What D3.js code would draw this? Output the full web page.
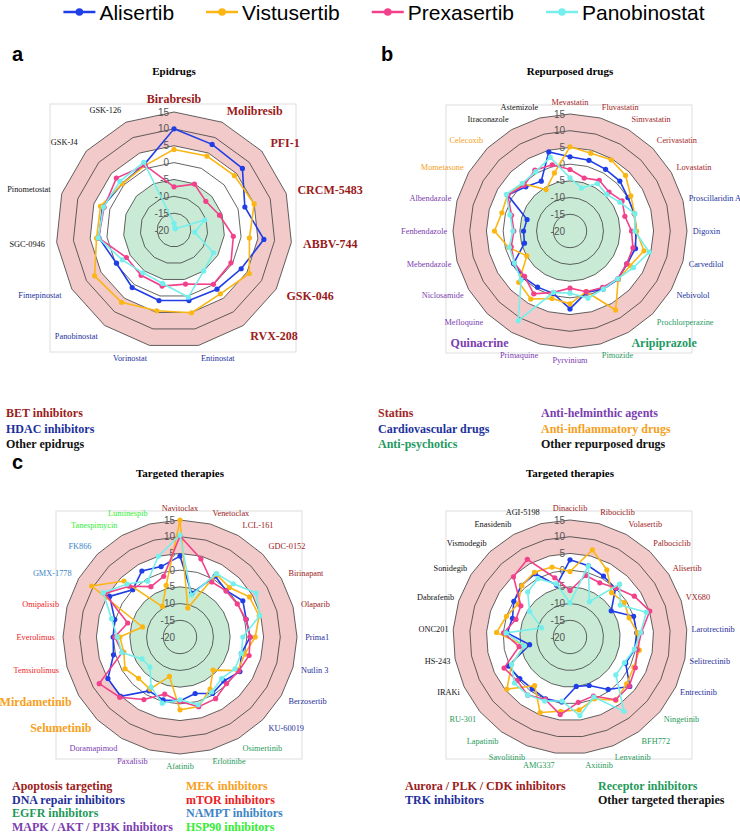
<!DOCTYPE html>
<html>
<head>
<meta charset="utf-8">
<script src="https://cdn.jsdelivr.net/npm/d3@7"></script>
<style>
body { margin: 0; background: #fff; }
svg { display: block; }
</style>
</head>
<body>
<svg id="fig" width="740" height="835"></svg>
<script>

// four drugs drawn on every radar
var drugs = ["Alisertib", "Vistusertib", "Prexasertib", "Panobinostat"];
var drugColors = ["#1f3ee6", "#fbb614", "#f2418a", "#74efec"];

// radial grid
var ringVals = [15, 10, 5, 0, -5, -10, -15];
var tickVals = [15, 10, 5, 0, -5, -10, -15, -20];

// ---- a: Epidrugs
var epiLabels = ["Birabresib","Molibresib","PFI-1","CRCM-5483","ABBV-744","GSK-046","RVX-208",
  "Entinostat","Vorinostat","Panobinostat","Fimepinostat","SGC-0946","Pinometostat","GSK-J4","GSK-126"];
var epiGroups = ["bet","bet","bet","bet","bet","bet","bet","hdac","hdac","hdac","hdac","oth","oth","oth","oth"];
var epiAlisertib    = [10, 7.8, 7.3, 2.1, 6.8, 3, 1.7, 1.4, 1.4, 1.1, -0.3, 2.4, 2.3, 0.6, 1.4];
var epiVistusertib  = [3.9, 4, 4.1, 5, 2.5, 5.8, 3.4, 5.1, 4.5, 6.5, 7.2, 3.1, 2.9, 0.6, 1];
var epiPrexasertib  = [-7.2, -5.1, -7.3, -5.8, -2.3, -0.5, -0.1, -3.6, -3, -3.4, -3.7, 2.5, 1.8, 3, 1];
var epiPanobinostat = [-18, -19.3, -19.5, -10.4, -13.8, -6.5, -5, 0.4, -3.8, -4.3, -2.3, 2.6, 2, 1.6, 2];

// ---- b: Repurposed drugs
var repLabels = ["Mevastatin","Fluvastatin","Simvastatin","Cerivastatin","Lovastatin","Proscillaridin A",
  "Digoxin","Carvedilol","Nebivolol","Prochlorperazine","Aripiprazole","Pimozide","Pyrvinium","Primaquine",
  "Quinacrine","Mefloquine","Niclosamide","Mebendazole","Fenbendazole","Albendazole","Mometasone",
  "Celecoxib","Itraconazole","Astemizole"];
var repGroups = ["statin","statin","statin","statin","statin","cardio","cardio","cardio","cardio",
  "psych","psych","psych","helm","helm","helm","helm","helm","helm","helm","helm","infl","infl","oth","oth"];
var repAlisertib    = [2.2, 1.9, 1.3, 1.1, 0, -0.1, -0.3, 0.3, -0.4, 0.4, 0, -1, 3.3, -0.7, -0.6, -0.4, -0.5, -5.9, -6.1, -6.7, 1.5, -1.3, -2.8, 4.5];
var repVistusertib  = [5.2, 4.1, 4.6, 3.5, 1, 0, -0.1, 2.9, 0.8, 0.4, 7.3, -1.2, 1.8, 0.9, 3.5, 1.7, -5.1, -1, 2.6, 1.1, 1.6, 0, -5.7, -2];
var repPrexasertib  = [-1.6, -3.6, -2.5, -3.5, -2, -3, -1.6, -0.5, -0.4, 0.2, -0.5, -1.2, -2.9, -1, 1.7, -0.8, -0.8, -1.8, -3.2, -1.9, 1.5, -0.6, 1, 0.5];
var repPanobinostat = [-4.1, -6.7, -3.6, -4.5, -2.8, 0.1, -0.6, 4.5, 1.9, 0.2, 0, 0.8, -1.4, -1, 11, 0.7, -0.8, -1.2, -2.9, -1.4, 2, 0.2, 0.5, 2.8];

// ---- c (left): Targeted therapies
var tarLabels = ["Navitoclax","Venetoclax","LCL-161","GDC-0152","Birinapant","Olaparib","Prima1","Nutlin 3",
  "Berzosertib","KU-60019","Osimertinib","Erlotinibe","Afatinib","Paxalisib","Doramapimod","Selumetinib",
  "Mirdametinib","Temsirolimus","Everolimus","Omipalisib","GMX-1778","FK866","Tanespimycin","Luminespib"];
var tarGroups = ["apop","apop","apop","apop","apop","apop","dna","dna","dna","dna","egfr","egfr","egfr",
  "mapk","mapk","mek","mek","mtor","mtor","mtor","nampt","nampt","hsp","hsp"];
var tarAlisertib    = [4.2, -6.5, 1, -0.4, 1.7, 0.5, 1, -1, 0.7, -1.4, -0.5, -2.5, -0.9, -0.5, -1.4, 5.1, 4.9, 0.6, 0, 0.2, 4.3, 0, 2.8, 1.8];
var tarVistusertib  = [15, -11, 1.7, 0.9, 4, 4.5, 2.5, 0, 0, -6, -2, 1.5, 1.8, -7.8, -2, -2.5, -1, -2.6, -2, -8.4, 10.5, 3.7, -9.5, -4];
var tarPrexasertib  = [10.2, 4.2, -1, -0.5, -0.2, 0.4, 1, 1.4, 0.3, -0.3, 1.3, 1.6, -0.7, -2.3, 1.6, 5.5, 7.9, -2.1, -0.5, -3.8, 6, 1.5, -2.6, -1.2];
var tarPanobinostat = [10.5, -7, 1.9, 2.5, 6.3, 4.7, -1.2, -1, -1, -2.4, -1, 1, -1.2, 0.5, -2.7, -7.3, -6.9, -2, -1.2, 1.2, 6.5, 2.4, -0.7, 5];

// ---- c (right): Targeted therapies
var tar2Labels = ["Dinaciclib","Ribociclib","Volasertib","Palbociclib","Alisertib","VX680","Larotrectinib",
  "Selitrectinib","Entrectinib","Ningetinib","BFH772","Lenvatinib","Axitinib","AMG337","Savolitinib",
  "Lapatinib","RU-301","IRAKi","HS-243","ONC201","Dabrafenib","Sonidegib","Vismodegib","Enasidenib","AGI-5198"];
var tar2Groups = ["cdk","cdk","cdk","cdk","cdk","cdk","trk","trk","trk","rec","rec","rec","rec","rec","rec",
  "rec","rec","oth","oth","oth","oth","oth","oth","oth","oth"];
var tar2Alisertib    = [3.1, 2, 0.8, -0.1, -5.4, 0, 0, -0.3, -1.6, 3.2, -0.6, -4.4, -5.1, -0.4, -0.1, -0.8, -0.5, 0.4, -7.7, -1.2, -1.9, -0.1, 1.2, 1.6, -4];
var tar2Vistusertib  = [-0.4, 6.9, 2.9, -1.8, -0.8, -1.4, 0.2, 1.1, 1.1, 2, 3.4, -0.1, 2, 2.4, 4.3, -2, 4.5, -0.7, -6.1, 2, 0, -1.6, 1.1, 2.1, 1.6];
var tar2Prexasertib  = [-6.1, -1, -1.5, 0.1, 2.8, 5.1, 1.4, 0.5, 1.6, 3, 3.2, -1, -0.3, 3.4, 0.1, 1.5, 0.5, 1.8, -4.5, -0.1, -3, -2.6, 4.7, 6.5, -1.7];
var tar2Panobinostat = [-9.8, 2, -7.9, 1.7, -2.2, 4, 1.2, -0.4, -2, -2.2, 7.5, -0.7, 3.7, -0.7, 0.6, 1.5, 1.6, -0.7, -6, -0.8, -11.1, -5.7, -1.5, -0.1, -3.6];

// labels written big and bold
var boldLabels = ["Birabresib","Molibresib","PFI-1","CRCM-5483","ABBV-744","GSK-046","RVX-208",
  "Aripiprazole","Quinacrine","Selumetinib","Mirdametinib"];

// class colours
var groupColor = {
  bet: "#9b1b1b", hdac: "#1c2f9e", oth: "#111111",
  statin: "#a3261f", cardio: "#22319e", psych: "#1f9a63", helm: "#7b3db0", infl: "#f5a020",
  apop: "#9b2020", dna: "#1f2f9a", egfr: "#1f9a5a", mapk: "#7b3db0", mek: "#f7a01a",
  mtor: "#ee1c24", nampt: "#3d85c6", hsp: "#33ee33",
  cdk: "#9b2020", trk: "#1f2f9a", rec: "#1f9a5a"
};

// class legends under each radar
var legA = [["BET inhibitors","bet"],["HDAC inhibitors","hdac"],["Other epidrugs","oth"]];
var legB1 = [["Statins","statin"],["Cardiovascular drugs","cardio"],["Anti-psychotics","psych"]];
var legB2 = [["Anti-helminthic agents","helm"],["Anti-inflammatory drugs","infl"],["Other repurposed drugs","oth"]];
var legC1 = [["Apoptosis targeting","apop"],["DNA repair inhibitors","dna"],["EGFR inhibitors","egfr"],["MAPK / AKT / PI3K inhibitors","mapk"]];
var legC2 = [["MEK inhibitors","mek"],["mTOR inhibitors","mtor"],["NAMPT inhibitors","nampt"],["HSP90 inhibitors","hsp"]];
var legD1 = [["Aurora / PLK / CDK inhibitors","cdk"],["TRK inhibitors","trk"]];
var legD2 = [["Receptor inhibitors","rec"],["Other targeted therapies","oth"]];

var serif = "'Liberation Serif','Times New Roman',serif";
var svg = d3.select("#fig");

function drawRadar(cfg) {
  var n = cfg.labels.length;
  var g = svg.append("g").attr("transform", "translate(" + cfg.cx + "," + cfg.cy + ")");
  var r = d3.scaleLinear().domain([-20, 15]).range([0, cfg.R]);
  var ang = d3.scaleLinear().domain([0, n]).range([0, 2 * Math.PI]);

  function ring(v) {
    return d3.lineRadial()
      .angle(function(d, i) { return ang(i); })
      .radius(r(v))
      .curve(d3.curveLinearClosed)(cfg.labels);
  }

  //frame
  g.append("rect").attr("x", -124).attr("y", -126).attr("width", 246).attr("height", 248)
    .attr("fill", "none").attr("stroke", "#dedede").attr("stroke-width", 1);

  //bands
  g.append("path").attr("d", ring(15)).attr("fill", "#f2caca");
  g.append("path").attr("d", ring(5)).attr("fill", "#ffffff");
  g.append("path").attr("d", ring(-5)).attr("fill", "#c9ebd6");
  g.selectAll(".ring").data(ringVals).enter().append("path")
    .attr("class", "ring")
    .attr("d", ring)
    .attr("fill", "none").attr("stroke", "#3b3b3b").attr("stroke-width", 0.8);

  //tick labels
  g.selectAll(".tick").data(tickVals).enter().append("text")
    .attr("class", "tick")
    .attr("x", -5)
    .attr("y", function(d) { return -r(d); })
    .attr("dy", "0.35em")
    .attr("text-anchor", "end")
    .style("font-family", "'Liberation Sans',Arial,sans-serif")
    .style("font-size", "10px")
    .style("fill", "#555")
    .text(function(d) { return d; });

  //series
  var line = d3.lineRadial()
    .angle(function(d, i) { return ang(i); })
    .radius(function(d) { return r(d); })
    .curve(d3.curveLinearClosed);

  cfg.values.forEach(function(vals, s) {
    g.append("path").attr("d", line(vals))
      .attr("fill", "none").attr("stroke", drugColors[s]).attr("stroke-width", 1.6);
    g.selectAll(null).data(vals).enter().append("circle")
      .attr("cx", function(d, i) { return r(d) * Math.sin(ang(i)); })
      .attr("cy", function(d, i) { return -r(d) * Math.cos(ang(i)); })
      .attr("r", 2.6)
      .attr("fill", drugColors[s]);
  });

  //axis labels (on a slightly taller ellipse than the grid)
  var rx = cfg.R * cfg.padX, ry = cfg.R * cfg.padY;
  g.selectAll(".lab").data(cfg.labels).enter().append("text")
    .attr("class", "lab")
    .attr("x", function(d, i) { return rx * Math.sin(ang(i)); })
    .attr("y", function(d, i) { return -ry * Math.cos(ang(i)); })
    .attr("dy", "0.35em")
    .attr("text-anchor", function(d, i) {
      var s = Math.sin(ang(i));
      return s > 0.1 ? "start" : (s < -0.1 ? "end" : "middle");
    })
    .style("font-family", serif)
    .style("font-size", function(d) { return boldLabels.indexOf(d) >= 0 ? "12px" : "8.3px"; })
    .style("font-weight", function(d) { return boldLabels.indexOf(d) >= 0 ? "bold" : "normal"; })
    .style("fill", function(d, i) { return groupColor[cfg.groups[i]]; })
    .text(function(d) { return d; });

  //title
  svg.append("text")
    .attr("x", cfg.cx).attr("y", cfg.titleY)
    .attr("text-anchor", "middle")
    .style("font-family", serif).style("font-weight", "bold").style("font-size", "11px")
    .text(cfg.title);
}

function drawLegend(items, x, y, step) {
  svg.append("g").selectAll("text").data(items).enter().append("text")
    .attr("x", x)
    .attr("y", function(d, i) { return y + i * step; })
    .style("font-family", serif).style("font-weight", "bold").style("font-size", "12px")
    .style("fill", function(d) { return groupColor[d[1]]; })
    .text(function(d) { return d[0]; });
}

drawRadar({ labels: epiLabels, groups: epiGroups, cx: 174, cy: 230, R: 118, padX: 1.1, padY: 1.11,
  title: "Epidrugs", titleY: 75,
  values: [epiAlisertib, epiVistusertib, epiPrexasertib, epiPanobinostat] });
drawRadar({ labels: repLabels, groups: repGroups, cx: 570, cy: 231, R: 117, padX: 1.05, padY: 1.1,
  title: "Repurposed drugs", titleY: 75,
  values: [repAlisertib, repVistusertib, repPrexasertib, repPanobinostat] });
drawRadar({ labels: tarLabels, groups: tarGroups, cx: 180, cy: 637, R: 117, padX: 1.07, padY: 1.1,
  title: "Targeted therapies", titleY: 477,
  values: [tarAlisertib, tarVistusertib, tarPrexasertib, tarPanobinostat] });
drawRadar({ labels: tar2Labels, groups: tar2Groups, cx: 570, cy: 637, R: 117, padX: 1.04, padY: 1.1,
  title: "Targeted therapies", titleY: 477,
  values: [tar2Alisertib, tar2Vistusertib, tar2Prexasertib, tar2Panobinostat] });

drawLegend(legA, 6, 417, 15.5);
drawLegend(legB1, 378, 417, 15.5);
drawLegend(legB2, 541, 417, 15.5);
drawLegend(legC1, 12, 790, 13.5);
drawLegend(legC2, 186, 790, 13.5);
drawLegend(legD1, 405, 790, 13.5);
drawLegend(legD2, 598, 790, 13.5);

//panel letters
[["a", 12, 61], ["b", 381, 61], ["c", 12, 469]].forEach(function(p) {
  svg.append("text").attr("x", p[1]).attr("y", p[2])
    .style("font-family", "'Liberation Sans',Arial,sans-serif")
    .style("font-weight", "bold").style("font-size", "20px")
    .text(p[0]);
});

//top legend
var topLeg = svg.append("g");
var lx = 0;
drugs.forEach(function(name, i) {
  var it = topLeg.append("g").attr("transform", "translate(" + lx + ",0)");
  it.append("line").attr("x1", 0).attr("x2", 32).attr("y1", 12).attr("y2", 12)
    .attr("stroke", drugColors[i]).attr("stroke-width", 2.5);
  it.append("circle").attr("cx", 16).attr("cy", 12).attr("r", 3.8).attr("fill", drugColors[i]);
  var t = it.append("text").attr("x", 36).attr("y", 19.5)
    .style("font-family", "'Liberation Sans Narrow','Arial Narrow','Liberation Sans',sans-serif")
    .style("font-size", "21px")
    .text(name);
  lx += 36 + t.node().getComputedTextLength() + 32;
});
lx -= 32;
topLeg.attr("transform", "translate(" + (384 - lx / 2) + ",0)");

</script>
</body>
</html>
